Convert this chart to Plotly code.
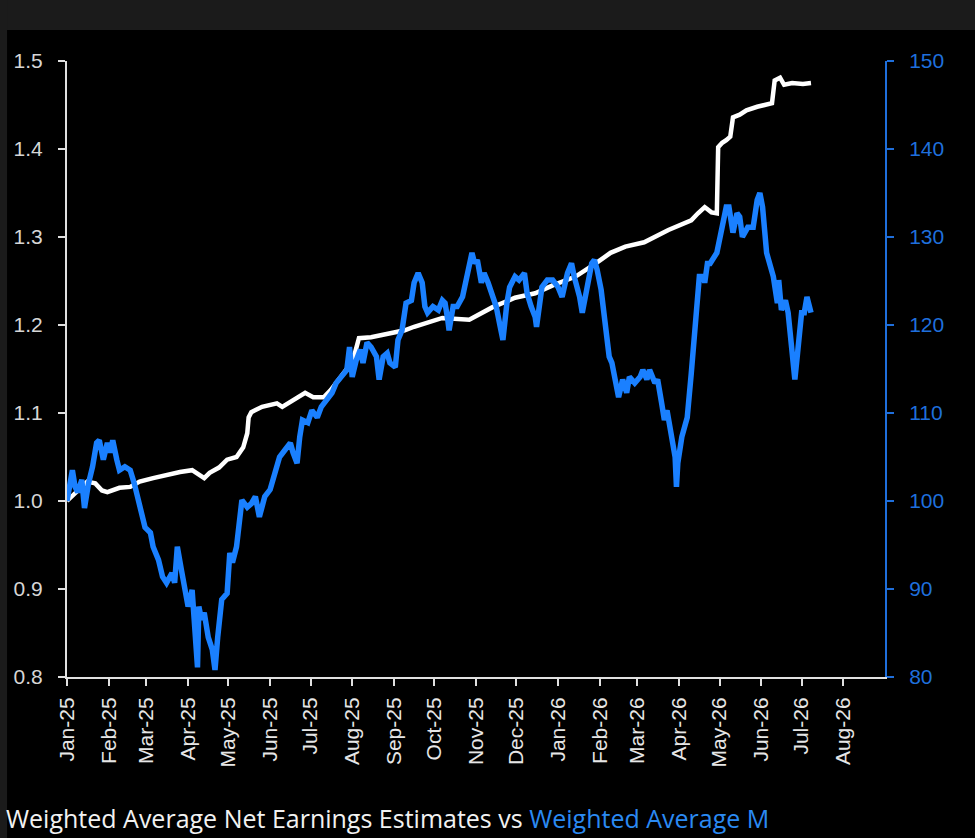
import plotly.graph_objects as go

# ---- data ----
white_dates = ["2025-01-01","2025-01-07","2025-01-16","2025-01-22","2025-01-27","2025-01-31",
    "2025-02-09","2025-02-17","2025-02-24","2025-03-06","2025-03-16","2025-03-26","2025-04-04",
    "2025-04-09","2025-04-13","2025-04-17","2025-04-24","2025-04-30","2025-05-07","2025-05-12",
    "2025-05-15","2025-05-16","2025-05-18","2025-05-26","2025-06-06","2025-06-10","2025-06-18",
    "2025-06-27","2025-07-03","2025-07-11","2025-07-16","2025-07-24","2025-07-29","2025-08-03",
    "2025-08-06","2025-08-15","2025-08-25","2025-09-01","2025-09-09","2025-09-16","2025-09-24",
    "2025-10-07","2025-10-27","2025-11-13","2025-11-30","2025-12-15","2025-12-28","2026-01-14",
    "2026-01-29","2026-02-09","2026-02-20","2026-03-06","2026-03-24","2026-04-10","2026-04-15",
    "2026-04-20","2026-04-25","2026-04-29","2026-04-30","2026-05-03","2026-05-06","2026-05-09",
    "2026-05-11","2026-05-16","2026-05-21","2026-05-29","2026-06-09","2026-06-11","2026-06-15",
    "2026-06-18","2026-06-24","2026-07-02","2026-07-08"]
white_vals = [1.000,1.009,1.022,1.020,1.012,1.010,
    1.015,1.016,1.022,1.026,1.030,1.033,1.035,
    1.030,1.026,1.032,1.038,1.047,1.050,1.061,
    1.077,1.095,1.101,1.107,1.111,1.107,1.115,
    1.123,1.118,1.118,1.126,1.141,1.152,1.168,
    1.185,1.186,1.189,1.191,1.194,1.198,1.202,
    1.208,1.206,1.220,1.231,1.236,1.245,1.255,
    1.270,1.282,1.289,1.294,1.308,1.319,1.327,
    1.334,1.328,1.327,1.402,1.407,1.410,1.414,
    1.436,1.439,1.444,1.448,1.452,1.478,1.481,
    1.473,1.475,1.474,1.475]

blue_dates = ["2025-01-01","2025-01-05","2025-01-07","2025-01-09","2025-01-12","2025-01-14",
    "2025-01-17","2025-01-20","2025-01-23","2025-01-25","2025-01-28","2025-01-31","2025-02-02",
    "2025-02-04","2025-02-07","2025-02-09","2025-02-13","2025-02-17","2025-02-20","2025-02-24",
    "2025-02-28","2025-03-04","2025-03-06","2025-03-10","2025-03-13","2025-03-16","2025-03-20",
    "2025-03-22","2025-03-24","2025-03-27","2025-03-30","2025-04-01","2025-04-04","2025-04-06",
    "2025-04-08","2025-04-09","2025-04-11","2025-04-13","2025-04-16","2025-04-19","2025-04-21",
    "2025-04-23","2025-04-26","2025-04-30","2025-05-02","2025-05-04","2025-05-07","2025-05-11",
    "2025-05-15","2025-05-18","2025-05-21","2025-05-24","2025-05-28","2025-06-01","2025-06-04",
    "2025-06-08","2025-06-12","2025-06-16","2025-06-18","2025-06-21","2025-06-23","2025-06-25",
    "2025-06-29","2025-07-02","2025-07-06","2025-07-09","2025-07-13","2025-07-17","2025-07-20",
    "2025-07-25","2025-07-28","2025-07-30","2025-08-01","2025-08-04","2025-08-07","2025-08-09",
    "2025-08-12","2025-08-15","2025-08-19","2025-08-21","2025-08-24","2025-08-27","2025-08-29",
    "2025-09-02","2025-09-04","2025-09-07","2025-09-10","2025-09-14","2025-09-16","2025-09-19",
    "2025-09-22","2025-09-24","2025-09-26","2025-09-30","2025-10-04","2025-10-07","2025-10-09",
    "2025-10-11","2025-10-12","2025-10-15","2025-10-18","2025-10-22","2025-10-26","2025-10-29",
    "2025-10-31","2025-11-02","2025-11-05","2025-11-07","2025-11-10","2025-11-13","2025-11-16",
    "2025-11-19","2025-11-21","2025-11-24","2025-11-26","2025-11-30","2025-12-03","2025-12-07",
    "2025-12-09","2025-12-12","2025-12-15","2025-12-16","2025-12-18","2025-12-20","2025-12-24",
    "2025-12-28","2026-01-01","2026-01-04","2026-01-08","2026-01-11","2026-01-13","2026-01-17",
    "2026-01-19","2026-01-22","2026-01-26","2026-01-28","2026-01-30","2026-02-02","2026-02-05",
    "2026-02-07","2026-02-08","2026-02-10","2026-02-13","2026-02-15","2026-02-18","2026-02-21",
    "2026-02-23","2026-02-27","2026-03-03","2026-03-05","2026-03-08","2026-03-10","2026-03-14",
    "2026-03-16","2026-03-19","2026-03-21","2026-03-23","2026-03-26","2026-03-29","2026-03-30",
    "2026-03-31","2026-04-03","2026-04-07","2026-04-10","2026-04-13","2026-04-15","2026-04-16",
    "2026-04-19","2026-04-20","2026-04-22","2026-04-24","2026-04-29","2026-05-03","2026-05-06",
    "2026-05-08","2026-05-11","2026-05-14","2026-05-16","2026-05-18","2026-05-22","2026-05-26",
    "2026-05-29","2026-05-31","2026-06-02","2026-06-05","2026-06-07","2026-06-10","2026-06-13",
    "2026-06-14","2026-06-16","2026-06-19","2026-06-21","2026-06-24","2026-06-26","2026-06-28",
    "2026-07-01","2026-07-03","2026-07-05","2026-07-08"]
blue_vals = [100.0,103.5,101.6,101.0,102.4,99.2,
    102.0,103.9,106.6,106.9,104.7,106.6,105.5,
    106.9,104.7,103.5,103.9,103.5,102.0,99.3,
    97.0,96.4,94.8,93.3,91.4,90.7,91.8,
    90.7,94.8,92.2,89.1,88.0,89.9,84.2,
    81.1,88.0,86.5,87.3,84.5,83.1,80.8,
    84.5,88.8,89.5,94.1,93.0,94.8,100.1,
    99.3,99.7,100.5,98.2,100.5,101.3,102.7,
    105.0,105.8,106.6,105.5,104.3,107.3,109.2,
    108.9,110.3,109.5,110.7,111.5,112.3,113.4,
    114.5,114.9,117.5,114.1,116.0,117.2,115.7,
    118.0,117.5,116.4,113.8,116.4,116.8,115.7,
    115.2,118.3,119.4,122.5,122.8,124.8,125.9,
    124.8,122.1,121.4,122.1,121.7,122.8,122.5,
    120.6,119.4,122.1,122.1,123.2,126.3,128.2,
    127.0,127.4,124.8,125.9,124.8,123.2,122.1,
    119.8,118.3,122.5,124.3,125.5,125.1,125.9,
    123.6,122.1,120.9,119.8,122.5,124.3,125.1,
    125.1,124.3,123.2,125.9,127.0,125.5,123.2,
    121.4,124.0,127.0,127.4,126.3,124.0,120.2,
    118.0,116.4,115.7,113.4,111.8,113.8,112.3,
    114.1,113.4,114.1,114.9,113.8,114.9,113.4,
    113.8,111.1,109.2,110.3,107.3,105.0,101.6,
    104.3,107.3,109.5,114.5,119.4,124.0,125.5,
    125.5,124.8,127.0,127.0,128.2,130.8,133.4,
    133.4,130.5,132.7,132.3,130.0,131.1,131.1,
    134.2,135.0,133.4,128.2,127.0,125.5,122.5,
    125.1,121.7,122.8,121.4,117.5,113.8,116.8,
    121.4,121.4,123.2,121.4]

month_ticks = ["2025-01-01","2025-02-01","2025-03-01","2025-04-01","2025-05-01","2025-06-01",
    "2025-07-01","2025-08-01","2025-09-01","2025-10-01","2025-11-01","2025-12-01",
    "2026-01-01","2026-02-01","2026-03-01","2026-04-01","2026-05-01","2026-06-01",
    "2026-07-01","2026-08-01"]
month_labels = ["Jan-25","Feb-25","Mar-25","Apr-25","May-25","Jun-25","Jul-25","Aug-25",
    "Sep-25","Oct-25","Nov-25","Dec-25","Jan-26","Feb-26","Mar-26","Apr-26","May-26",
    "Jun-26","Jul-26","Aug-26"]

left_ticks = [0.8, 0.9, 1.0, 1.1, 1.2, 1.3, 1.4, 1.5]
right_ticks = [80, 90, 100, 110, 120, 130, 140, 150]

WHITE = "#ffffff"
BLUE = "#1a80ff"
AXIS_BLUE = "#1f6fdc"
GREY_TXT = "#d6d6d6"

fig = go.Figure()
fig.add_trace(go.Scatter(x=white_dates, y=white_vals, mode="lines",
                         line=dict(color=WHITE, width=4.5), yaxis="y", showlegend=False))
fig.add_trace(go.Scatter(x=blue_dates, y=blue_vals, mode="lines",
                         line=dict(color=BLUE, width=5.5), yaxis="y2", showlegend=False))

fig.update_layout(
    width=975, height=838,
    margin=dict(l=67, r=90, t=61, b=161),
    paper_bgcolor="#000000", plot_bgcolor="#000000",
    font=dict(family="Liberation Sans, Arial, sans-serif", size=20, color=GREY_TXT),
    xaxis=dict(type="date", range=["2025-01-01", "2026-09-01"],
               tickvals=month_ticks, ticktext=month_labels, tickangle=-90,
               showgrid=False, zeroline=False, showline=True, linecolor="#e0e0e0", linewidth=2,
               ticks="outside", ticklen=7, tickwidth=2, tickcolor="#e0e0e0",
               tickfont=dict(size=21, color="#e6e6e6"), ticklabelstandoff=3),
    yaxis=dict(range=[0.8, 1.5], tickvals=left_ticks, tickformat=".1f",
               showgrid=False, zeroline=False, showline=True, linecolor="#e0e0e0", linewidth=2,
               ticks="outside", ticklen=7, tickwidth=2, tickcolor="#e0e0e0",
               tickfont=dict(size=21, color=GREY_TXT), ticklabelstandoff=11),
    yaxis2=dict(range=[80, 150], tickvals=right_ticks, overlaying="y", side="right",
                showgrid=False, zeroline=False, showline=True, linecolor=AXIS_BLUE, linewidth=2,
                ticks="outside", ticklen=7, tickwidth=2, tickcolor=AXIS_BLUE,
                tickfont=dict(size=21, color=AXIS_BLUE), ticklabelstandoff=11),
    shapes=[
        dict(type="rect", xref="paper", yref="paper", x0=-0.09, x1=1.12, y0=1.0503, y1=1.11,
             fillcolor="#1b1b1b", line=dict(width=0), layer="below"),
        dict(type="rect", xref="paper", yref="paper", x0=-0.09, x1=-0.0733, y0=-0.27, y1=1.11,
             fillcolor="#1b1b1b", line=dict(width=0), layer="below"),
    ],
    annotations=[
        dict(xref="paper", yref="paper", x=-0.0765, y=-0.229, xanchor="left", yanchor="middle",
             showarrow=False,
             text="Weighted Average Net Earnings Estimates vs "
                  "<span style='color:#2b8af2'>Weighted Average M</span>",
             font=dict(family="Open Sans, sans-serif", size=25, color="#f2f2f2")),
    ],
)

fig.write_html("out.html")
